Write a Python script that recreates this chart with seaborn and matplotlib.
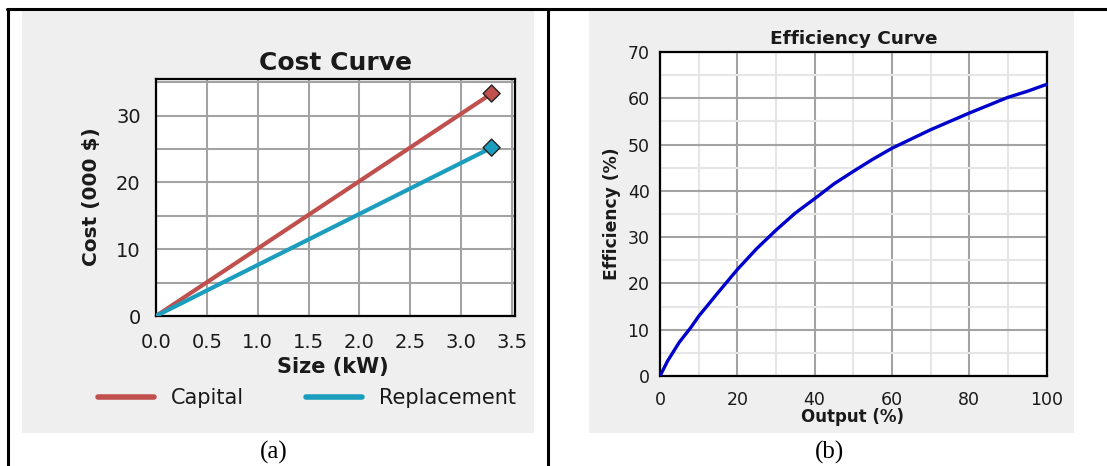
import matplotlib
matplotlib.use("Agg")
import matplotlib.pyplot as plt
from matplotlib.lines import Line2D
from matplotlib.patches import Rectangle
from matplotlib.ticker import MultipleLocator, FormatStrFormatter
import pandas as pd
import seaborn as sns

# ---- data -------------------------------------------------------------
size_kw = [0.0, 3.3]
capital_cost = [0.0, 33.3]        # thousand $
replacement_cost = [0.0, 25.2]    # thousand $
cost_series = ["Capital", "Replacement"]
cost_colors = ["#c0504d", "#1b9dbe"]

output_pct = [0, 2, 5, 8, 10, 15, 20, 25, 30, 35, 40, 45, 50,
              55, 60, 65, 70, 75, 80, 85, 90, 95, 100]
efficiency_pct = [0.0, 3.3, 7.3, 10.5, 12.9, 18.0, 23.0, 27.5, 31.5, 35.2,
                  38.3, 41.5, 44.2, 46.8, 49.2, 51.2, 53.2, 55.0, 56.8,
                  58.5, 60.2, 61.5, 63.0]

# ---- figure -----------------------------------------------------------
W, H = 1107, 466
sns.set_style("white")
plt.rcParams["font.family"] = ["DejaVu Sans"]
TXT = "#1a1a1a"
GRID = "#a3a3a3"

fig = plt.figure(figsize=(W / 100, H / 100), dpi=100)
fig.patch.set_facecolor("white")


def box(x0, y0, x1, y1):
    return [x0 / W, 1 - y1 / H, (x1 - x0) / W, (y1 - y0) / H]


# grey panel backgrounds
for x0, x1 in [(22, 534), (589, 1074)]:
    fig.add_artist(Rectangle((x0 / W, 1 - 433 / H), (x1 - x0) / W, (433 - 10) / H,
                             transform=fig.transFigure, facecolor="#efefef",
                             edgecolor="none", zorder=-5))

# table rules
fig.add_artist(Line2D([7 / W, 1.0], [1 - 9 / H] * 2, transform=fig.transFigure,
                      color="black", lw=2.2, zorder=-4))
for xr in (8, 548):
    fig.add_artist(Line2D([xr / W] * 2, [0, 1 - 9 / H], transform=fig.transFigure,
                          color="black", lw=2.2, zorder=-4))

# ---- (a) cost curve ---------------------------------------------------
ax1 = fig.add_axes(box(156, 79.5, 515, 316))
cost_df = pd.DataFrame({
    "Size": size_kw * 2,
    "Cost": capital_cost + replacement_cost,
    "Series": [cost_series[0]] * len(size_kw) + [cost_series[1]] * len(size_kw),
})
palette = dict(zip(cost_series, cost_colors))
sns.lineplot(data=cost_df, x="Size", y="Cost", hue="Series", palette=palette,
             linewidth=3.0, ax=ax1, legend=False, zorder=3)
end_df = cost_df.groupby("Series", as_index=False).last()
sns.scatterplot(data=end_df, x="Size", y="Cost", hue="Series", palette=palette,
                marker="D", s=75, edgecolor="#222222", linewidth=1.0, ax=ax1,
                legend=False, zorder=4, clip_on=False)

ax1.set_xlim(0, 3.53)
ax1.set_ylim(0, 35.4)
ax1.xaxis.set_major_locator(MultipleLocator(0.5))
ax1.xaxis.set_major_formatter(FormatStrFormatter("%.1f"))
ax1.yaxis.set_major_locator(MultipleLocator(10))
ax1.yaxis.set_minor_locator(MultipleLocator(5))
ax1.grid(True, which="both", color=GRID, lw=1.5)
ax1.set_axisbelow(True)
ax1.tick_params(axis="both", which="both", direction="out", color="black",
                width=1.2, labelcolor=TXT)
ax1.tick_params(axis="x", length=5, pad=7, labelsize=14)
ax1.tick_params(axis="y", which="both", length=5, pad=6, labelsize=14)
ax1.set_xlabel("Size (kW)", fontsize=15, fontweight="bold", color=TXT)
ax1.set_ylabel("Cost (000 $)", fontsize=14.5, fontweight="bold", color=TXT)
ax1.xaxis.label.set_va("center")
ax1.yaxis.label.set_va("center")
ax1.xaxis.set_label_coords(0.493, -0.216)
ax1.yaxis.set_label_coords(-0.181, 0.503)
ax1.set_title("Cost Curve", fontsize=18, fontweight="bold", color=TXT,
              y=1.068, va="center", pad=0)
for sp in ax1.spines.values():
    sp.set_color("black")
    sp.set_linewidth(1.6)
handles = [Line2D([], [], color=c, lw=4) for c in cost_colors]
ax1.legend(handles, cost_series, loc="center", bbox_to_anchor=(0.42, -0.347),
           ncol=2, frameon=False, fontsize=15, handlelength=2.7,
           handletextpad=0.8, columnspacing=3.0, labelcolor=TXT)

# ---- (b) efficiency curve ---------------------------------------------
ax2 = fig.add_axes(box(660, 52, 1046.5, 376))
sns.lineplot(x=output_pct, y=efficiency_pct, color="#0000cc", linewidth=2.4,
             ax=ax2, zorder=3)
ax2.set_xlim(0, 100)
ax2.set_ylim(0, 70)
ax2.xaxis.set_major_locator(MultipleLocator(20))
ax2.xaxis.set_minor_locator(MultipleLocator(10))
ax2.yaxis.set_major_locator(MultipleLocator(10))
ax2.yaxis.set_minor_locator(MultipleLocator(5))
ax2.grid(True, which="minor", color="#e6e6e6", lw=1.5)
ax2.grid(True, which="major", color=GRID, lw=1.5)
ax2.set_axisbelow(True)
ax2.tick_params(axis="both", which="major", direction="out", length=4.5,
                width=1.2, color="black", pad=3, labelsize=12.5, labelcolor=TXT)
ax2.tick_params(axis="both", which="minor", length=0)
ax2.tick_params(axis="x", pad=6)
ax2.set_xlabel("Output (%)", fontsize=12, fontweight="bold", color=TXT)
ax2.set_ylabel("Efficiency (%)", fontsize=12.3, fontweight="bold", color=TXT)
ax2.xaxis.label.set_va("center")
ax2.yaxis.label.set_va("center")
ax2.xaxis.set_label_coords(0.497, -0.126)
ax2.yaxis.set_label_coords(-0.124, 0.5)
ax2.set_title("Efficiency Curve", fontsize=13.3, fontweight="bold", color=TXT,
              y=1.039, va="center", pad=0)
for sp in ax2.spines.values():
    sp.set_color("black")
    sp.set_linewidth(1.6)

# ---- panel captions ---------------------------------------------------
fig.text(274 / W, 1 - 452 / H, "(a)", ha="center", va="center",
         family="Liberation Serif", fontsize=18, color="black")
fig.text(830 / W, 1 - 452 / H, "(b)", ha="center", va="center",
         family="Liberation Serif", fontsize=18, color="black")

fig.savefig("out.png", dpi=100, facecolor="white")
